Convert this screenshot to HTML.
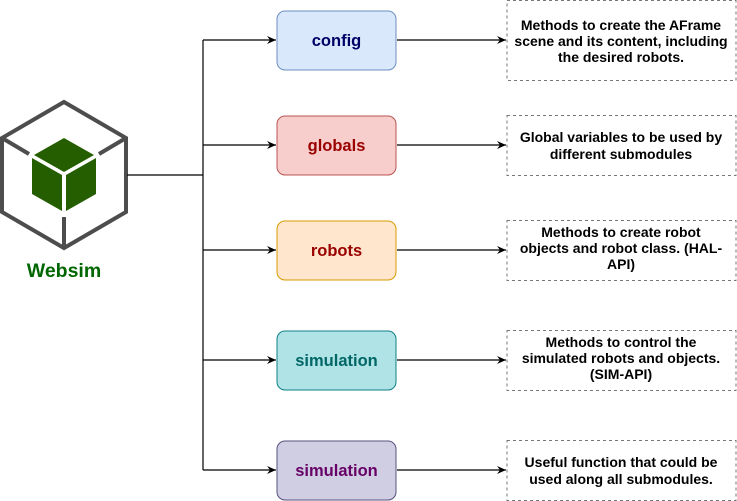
<!DOCTYPE html>
<html><head><style>body{margin:0;background:#fff}svg{display:block}</style></head><body>
<svg width="737" height="501" viewBox="0 0 737 501" xmlns="http://www.w3.org/2000/svg" font-family="Liberation Sans, sans-serif" font-weight="bold">
<defs><marker id="a" markerWidth="10" markerHeight="8" refX="9" refY="4" orient="auto" markerUnits="userSpaceOnUse"><path d="M0,0 L9,4 L0,8 L3,4 Z" fill="#000"/></marker></defs>
<g stroke="#4d4d4d" stroke-width="4" fill="none" stroke-linejoin="miter">
<path d="M64,102 L126,138 L126,212 L64,248 L2,212 L2,138 Z"/>
<path d="M2,138 L29,154 M126,138 L99,154 M64,248 L64,217"/>
</g>
<path d="M64,138 L94,155 L64,172 L34,155 Z" fill="#245e00"/>
<path d="M32,158 L62,175 L62,211 L32,194 Z" fill="#245e00"/>
<path d="M66,175 L96,158 L96,194 L66,211 Z" fill="#245e00"/>
<text x="64" y="277" text-anchor="middle" font-size="19.5" fill="#006600">Websim</text>
<g stroke="#000" stroke-width="1.2" fill="none">
<path d="M127,175 H203 M203,40 V470"/>
<path d="M203,40 H276" marker-end="url(#a)"/>
<path d="M203,145 H276" marker-end="url(#a)"/>
<path d="M203,250 H276" marker-end="url(#a)"/>
<path d="M203,360 H276" marker-end="url(#a)"/>
<path d="M203,470 H276" marker-end="url(#a)"/>
<path d="M397,40 H506" marker-end="url(#a)"/>
<path d="M397,145 H506" marker-end="url(#a)"/>
<path d="M397,250 H506" marker-end="url(#a)"/>
<path d="M397,360 H506" marker-end="url(#a)"/>
<path d="M397,470 H506" marker-end="url(#a)"/>
</g>
<g font-size="16.5" text-anchor="middle">
<rect x="277" y="11" width="119" height="59" rx="8" fill="#dae8fc" stroke="#6c8ebf"/>
<text x="336.5" y="46" fill="#000066">config</text>
<rect x="277" y="116" width="119" height="59" rx="8" fill="#f8cecc" stroke="#b85450"/>
<text x="336.5" y="151" fill="#990000">globals</text>
<rect x="277" y="221" width="119" height="59" rx="8" fill="#ffe6cc" stroke="#d79b00"/>
<text x="336.5" y="256" fill="#990000">robots</text>
<rect x="277" y="331" width="119" height="59" rx="8" fill="#b0e3e6" stroke="#0e8088"/>
<text x="336.5" y="366" fill="#006666">simulation</text>
<rect x="277" y="441" width="119" height="59" rx="8" fill="#d0cee2" stroke="#56517e"/>
<text x="336.5" y="476" fill="#660066">simulation</text>
</g>
<g fill="none" stroke="#777" stroke-dasharray="3,3">
<rect x="507" y="0.5" width="229" height="80"/>
<rect x="507" y="115.5" width="229" height="60"/>
<rect x="507" y="220.5" width="229" height="60"/>
<rect x="507" y="330.5" width="229" height="60"/>
<rect x="507" y="440.5" width="229" height="60"/>
</g>
<g font-size="14" fill="#000" text-anchor="middle">
<text x="621" y="30">Methods to create the AFrame</text>
<text x="621" y="46">scene and its content, including</text>
<text x="621" y="62">the desired robots.</text>
<text x="621" y="142">Global variables to be used by</text>
<text x="621" y="159">different submodules</text>
<text x="621" y="237">Methods to create robot</text>
<text x="621" y="253">objects and robot class. (HAL-</text>
<text x="621" y="269">API)</text>
<text x="621" y="347">Methods to control the</text>
<text x="621" y="363">simulated robots and objects.</text>
<text x="621" y="379">(SIM-API)</text>
<text x="621" y="467">Useful function that could be</text>
<text x="621" y="484">used along all submodules.</text>
</g>
</svg>
</body></html>
